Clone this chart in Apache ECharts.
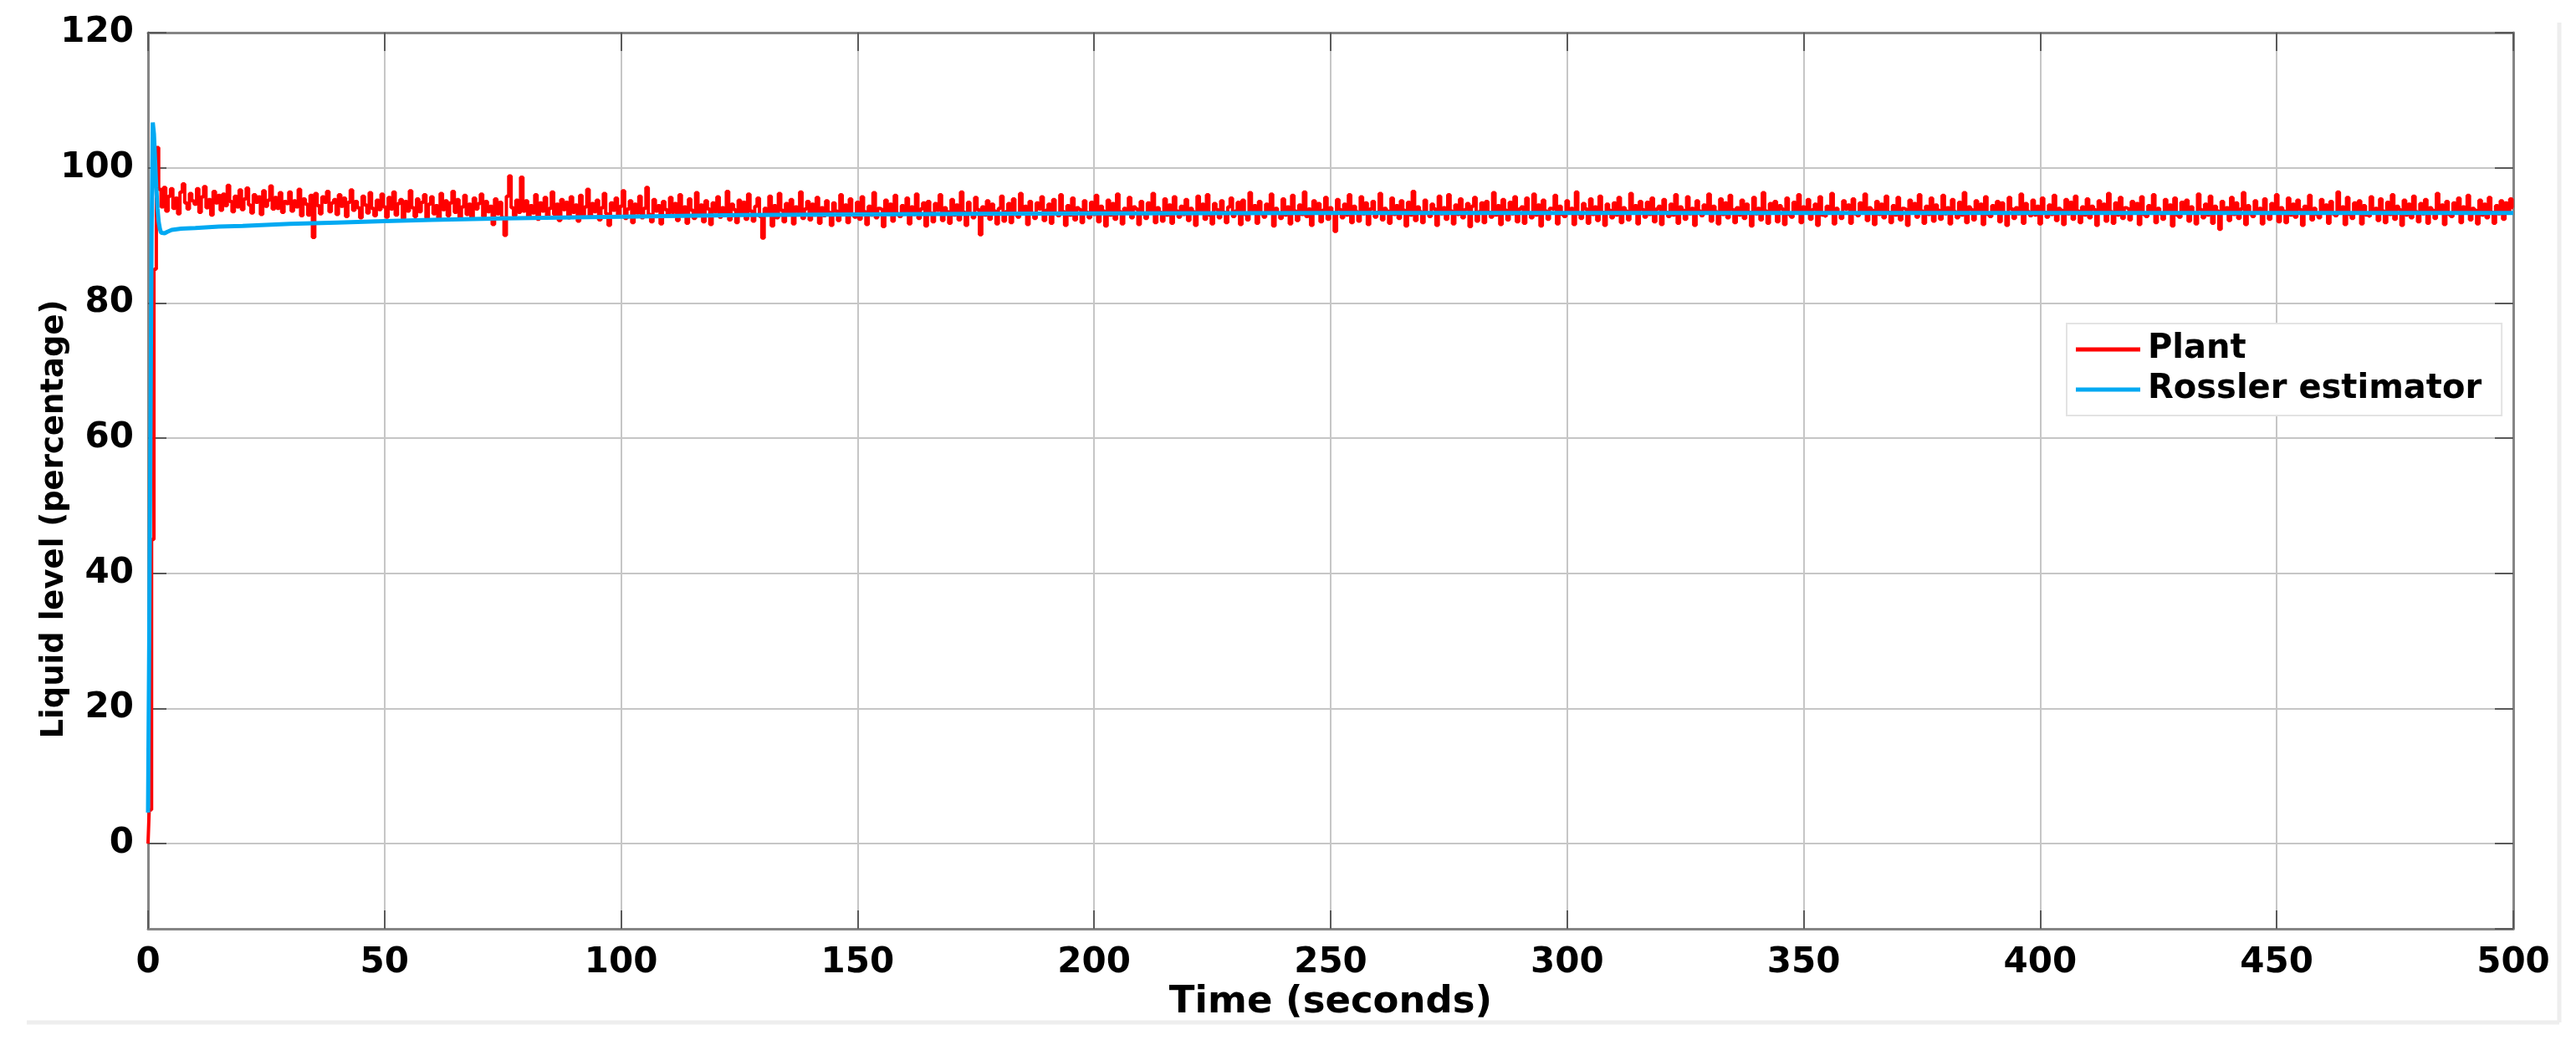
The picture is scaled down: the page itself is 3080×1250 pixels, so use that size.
<!DOCTYPE html>
<html>
<head>
<meta charset="utf-8">
<script src="https://cdn.jsdelivr.net/npm/echarts@6/dist/echarts.min.js"></script>
<style>
html,body{margin:0;padding:0;background:#fff;}
#chart{width:3080px;height:1250px;}
</style>
</head>
<body>
<div id="chart"></div>
<script>
// ---- data ----
const seriesNames = ['Plant', 'Rossler estimator'];
const xTickLabels = ['0','50','100','150','200','250','300','350','400','450','500'];
const yTickLabels = ['0','20','40','60','80','100','120'];

// Plant output, sampled every 0.5 s from t = 0 to t = 500
const plantStartTime = 0;
const plantSampleStep = 0.5;
const plantValues = [
0,5,45,85,103.0,96.8,94.2,97.1,93.6,95.8,96.9,94.0,95.5,93.2,96.4,97.6,94.8,93.9,96.2,95.1,
94.6,96.9,93.4,95.7,97.2,94.1,95.3,93.0,96.5,94.8,95.9,93.7,96.1,94.4,97.4,95.0,93.5,95.8,94.2,96.7,
93.8,95.4,97.0,94.5,93.3,96.0,94.9,95.7,93.1,96.6,94.3,95.2,97.3,93.9,95.6,94.0,96.3,93.4,95.0,94.7,
96.4,93.6,95.1,94.2,96.8,92.9,95.4,94.6,93.0,95.9,89.7,96.2,94.4,93.2,95.7,94.9,96.5,93.5,94.8,95.3,
93.1,96.0,94.3,95.5,92.8,94.9,96.7,93.7,95.0,94.1,92.6,95.8,94.5,93.3,96.3,94.0,92.9,95.2,93.8,96.1,
94.2,92.7,95.6,93.9,96.4,93.0,94.7,95.3,92.5,95.0,93.6,96.6,94.1,92.8,95.4,93.5,94.9,96.0,92.6,94.6,
95.7,93.2,94.4,92.4,96.2,93.8,95.1,92.9,94.8,96.5,93.4,95.3,92.7,94.2,95.9,93.1,94.6,92.5,95.5,93.9,
94.7,96.1,92.8,95.0,93.5,94.3,91.6,95.4,93.2,94.9,92.6,90.0,95.8,98.8,94.1,92.9,95.2,93.4,98.6,93.6,
95.1,92.7,94.4,93.3,96.0,92.4,94.8,93.6,95.6,92.9,94.0,96.4,93.1,94.6,92.2,95.3,93.8,94.9,92.6,95.7,
93.4,94.5,92.1,95.9,93.0,94.2,96.8,92.7,94.7,93.5,95.2,92.3,94.1,96.2,93.2,91.5,94.8,93.7,95.5,92.8,
94.3,96.6,92.5,93.9,95.1,91.9,94.6,93.3,95.8,92.6,94.0,97.1,93.1,92.0,95.3,93.6,94.4,91.7,95.0,93.8,
92.9,95.6,93.4,94.7,92.2,96.0,93.0,94.2,91.8,95.4,93.7,92.5,96.3,93.2,94.5,92.0,95.1,93.9,91.6,94.8,
93.5,95.7,92.7,94.1,93.0,96.5,92.3,94.6,93.8,91.9,95.2,93.3,94.9,92.4,96.1,93.6,92.1,94.3,95.5,92.8,
89.6,94.0,93.1,95.8,91.4,94.4,92.6,96.2,93.7,92.0,94.7,93.2,95.3,91.7,94.2,93.5,96.4,92.5,93.9,95.0,
92.3,94.6,93.0,95.6,91.8,94.1,92.9,95.1,93.4,91.5,94.8,93.6,92.2,96.0,93.3,94.5,91.9,95.4,93.1,92.7,
94.9,92.4,95.7,93.5,91.6,94.3,93.0,96.3,92.6,94.0,93.8,91.3,95.2,93.4,94.6,92.1,95.9,93.2,92.8,94.4,
93.6,95.5,91.7,94.2,93.1,96.1,92.5,93.9,94.8,91.4,95.0,93.3,92.0,94.7,93.7,96.0,92.2,94.1,93.5,91.8,
95.3,93.0,94.5,92.3,96.4,93.4,91.5,94.9,93.2,92.6,95.6,93.8,90.1,94.2,93.0,95.1,92.4,94.6,93.6,91.7,
94.0,95.8,92.1,93.5,94.7,91.9,95.4,93.1,92.7,96.2,93.6,94.3,91.6,95.0,93.3,92.5,94.8,93.9,95.7,92.2,
93.7,94.6,91.8,95.3,93.2,92.9,96.0,93.5,91.5,94.4,93.0,95.5,92.3,94.1,93.8,91.9,95.1,93.4,92.6,94.9,
93.1,95.9,92.0,94.3,93.6,91.4,95.2,93.0,94.7,92.4,96.1,93.5,91.7,94.0,93.3,95.6,92.6,94.2,93.9,91.6,
95.0,93.2,92.5,94.8,93.7,96.2,91.9,94.1,93.4,92.1,95.4,93.0,94.5,91.8,95.7,93.6,92.7,94.3,93.1,95.3,
92.2,94.0,93.5,91.5,95.8,93.3,94.6,92.4,96.0,93.0,91.7,94.7,93.8,92.6,95.1,93.4,91.9,94.2,95.5,92.8,
93.6,94.9,91.6,95.2,93.1,92.3,96.3,93.7,94.4,91.8,95.0,93.2,92.7,94.6,93.5,96.1,91.4,94.0,93.3,92.5,
95.4,93.0,94.2,91.7,95.9,93.6,92.2,94.5,93.1,96.4,92.8,93.9,91.5,95.1,93.4,94.7,92.0,93.7,95.6,92.4,
94.1,93.3,90.6,95.3,93.8,92.6,94.6,93.0,96.0,91.9,94.3,93.5,92.1,95.7,93.2,94.8,91.6,93.9,95.0,92.7,
93.4,96.2,92.3,94.0,93.6,91.8,95.5,93.1,94.4,92.5,95.1,93.7,91.4,94.9,93.0,96.5,92.2,94.2,93.5,91.9,
95.2,93.3,92.8,94.6,93.9,91.5,95.8,93.2,94.1,92.4,96.0,93.6,91.7,94.5,93.1,95.4,92.6,93.8,94.7,91.3,
94.3,95.6,92.1,93.5,94.8,91.9,95.0,93.4,92.7,96.3,93.0,94.4,91.6,95.3,93.7,92.3,94.9,93.2,95.7,92.0,
93.9,94.2,91.8,95.5,93.3,92.6,96.1,93.0,94.5,91.4,95.2,93.6,92.4,94.0,93.8,95.9,91.7,94.3,93.1,92.8,
95.1,93.5,94.0,91.6,96.4,93.2,92.5,94.7,93.9,91.8,95.4,93.1,94.2,92.2,95.8,93.4,91.5,94.6,93.7,92.6,
94.8,93.0,95.6,91.9,94.1,93.6,92.3,96.2,93.3,94.4,91.7,95.0,93.8,92.7,94.9,93.1,95.5,92.0,93.9,94.3,
91.6,95.3,93.4,92.8,94.6,93.0,96.0,91.8,94.2,93.7,92.4,95.7,93.2,94.0,91.5,95.1,93.6,92.9,94.5,93.3,
96.1,92.1,94.3,93.5,91.7,95.4,93.1,94.8,92.6,95.9,93.8,91.9,94.1,93.0,95.2,92.5,94.6,93.4,91.4,95.6,
93.2,94.0,92.3,96.3,93.6,91.8,94.7,93.3,95.0,92.0,94.4,93.9,91.6,95.5,93.1,92.7,94.9,93.5,96.0,91.9,
94.2,93.4,95.3,92.4,93.8,94.6,91.5,95.7,93.0,92.8,94.3,93.6,96.2,91.7,94.0,93.3,92.5,95.1,93.9,94.5,
91.8,95.4,93.2,92.9,94.8,93.5,96.1,92.2,94.1,93.7,91.6,95.0,93.1,94.6,92.6,95.8,93.4,91.9,94.4,93.0,
95.6,92.3,94.0,93.8,91.5,95.2,93.3,94.7,92.7,96.0,93.6,91.8,94.3,93.1,95.5,92.1,94.5,93.7,92.4,95.9,
93.2,94.1,91.7,95.3,93.5,92.6,94.9,93.0,96.3,91.9,94.2,93.8,92.3,95.1,93.4,94.6,91.6,95.7,93.1,92.8,
94.4,93.6,95.0,92.0,94.8,93.3,91.5,95.6,93.9,92.5,94.1,93.2,96.1,91.8,94.7,93.5,92.9,95.2,93.0,94.3,
91.7,95.5,93.4,92.7,94.5,93.1,95.9,92.2,94.0,93.7,91.6,95.3,93.2,94.9,92.4,95.8,93.6,91.9,94.2,93.0,
95.4,92.6,94.3,93.8,91.5,95.1,93.3,94.6,92.1,96.2,93.5,91.8,94.8,93.0,95.6,92.5,94.1,93.9,92.3,95.0,
93.4,94.7,91.6,95.7,93.1,92.8,94.4,93.6,96.0,91.9,94.0,93.2,92.4,95.3,93.7,94.5,91.4,95.5,93.0,92.7,
94.9,93.5,95.2,92.1,94.2,93.3,91.7,96.1,93.8,92.6,94.6,93.0,95.8,91.8,94.3,93.6,90.9,95.0,93.4,94.1,
92.2,95.6,93.1,94.8,92.5,93.9,96.3,91.6,94.4,93.2,92.8,95.1,93.7,94.0,91.7,95.4,93.3,92.4,94.7,93.5,
96.0,92.0,94.1,93.6,91.9,95.5,93.0,94.6,92.7,95.2,93.8,91.5,94.3,93.4,95.9,92.3,94.0,93.1,92.6,95.3,
93.5,94.5,91.8,95.0,93.2,92.9,96.4,93.7,94.2,91.6,95.6,93.1,92.5,94.8,93.4,95.1,91.7,94.4,93.0,92.8,
95.7,93.3,94.0,92.2,95.4,93.6,91.9,94.9,93.1,96.0,92.4,94.3,93.8,91.5,95.2,93.0,94.6,92.6,95.8,93.5,
92.0,94.7,93.2,95.3,91.8,94.1,93.7,92.5,96.2,93.4,94.5,91.6,95.0,93.1,92.8,94.8,93.6,95.5,91.9,94.2,
93.3,95.9,92.3,94.0,93.7,91.7,95.2,93.0,94.6,92.6,95.6,93.4,91.8,94.4,93.2,95.1,92.4,94.8,93.5,95.4,
94.1
];

// Rossler estimator output (smooth curve, read at selected times)
const estimatorTimes  = [0, 0.25, 0.5, 0.75, 1.0, 1.25, 1.5, 1.75, 2.0, 2.25, 2.5, 2.75, 3.0, 3.5, 4, 5, 7, 10, 15, 20, 30, 40, 50, 60, 75, 90, 100, 125, 150, 175, 200, 250, 300, 400, 500];
const estimatorValues = [4.6, 30, 60, 90, 106.7, 105, 101, 97, 94, 92, 91, 90.4, 90.2, 90.3, 90.5, 90.8, 91.0, 91.1, 91.3, 91.4, 91.7, 91.9, 92.1, 92.3, 92.5, 92.65, 92.75, 93.0, 93.1, 93.2, 93.25, 93.3, 93.3, 93.3, 93.3];

// ---- build series data ----
const plantData = plantValues.map((v, i) => [plantStartTime + i * plantSampleStep, v]);
const estimatorData = estimatorTimes.map((t, i) => [t, estimatorValues[i]]);

const FONT = 'DejaVu Sans';
const AXIS_COLOR = '#858585';
const TICK_COLOR = '#5a5a5a';
const GRID_COLOR = '#c6c6c6';

const xMin = +xTickLabels[0], xMax = +xTickLabels[xTickLabels.length - 1];
const xStep = +xTickLabels[1] - +xTickLabels[0];
const yMax = +yTickLabels[yTickLabels.length - 1];
const yStep = +yTickLabels[1] - +yTickLabels[0];
const yMin = -12.6;

const chart = echarts.init(document.getElementById('chart'), null, {renderer: 'canvas'});

const tickStyle = {show: true, inside: true, length: 22, lineStyle: {color: TICK_COLOR, width: 2}};
const lineStyleAxis = {show: true, onZero: false, lineStyle: {color: AXIS_COLOR, width: 3}};

chart.setOption({
  animation: false,
  backgroundColor: '#ffffff',
  grid: {left: 177, right: 75, top: 39, bottom: 139, containLabel: false},
  legend: {
    data: seriesNames,
    orient: 'vertical',
    left: 2471,
    top: 387,
    icon: 'rect',
    itemWidth: 77,
    itemHeight: 5,
    itemGap: 8,
    padding: [11, 24, 11, 11],
    backgroundColor: '#ffffff',
    borderColor: '#e3e3e3',
    borderWidth: 2,
    textStyle: {fontFamily: FONT, fontWeight: 'bold', fontSize: 40, color: '#000', lineHeight: 40, padding: [0, 0, 0, 4]}
  },
  xAxis: [{
    type: 'value', position: 'bottom', min: xMin, max: xMax, interval: xStep,
    axisLine: lineStyleAxis,
    axisTick: tickStyle,
    axisLabel: {margin: 20, color: '#000', fontFamily: FONT, fontWeight: 'bold', fontSize: 42},
    splitLine: {show: true, lineStyle: {color: GRID_COLOR, width: 2}},
    name: 'Time (seconds)', nameLocation: 'middle', nameGap: 66, nameMoveOverlap: false,
    nameTextStyle: {fontFamily: FONT, fontWeight: 'bold', fontSize: 45, color: '#000'}
  }, {
    type: 'value', position: 'top', min: xMin, max: xMax, interval: xStep,
    axisLine: lineStyleAxis, axisTick: tickStyle,
    axisLabel: {show: false}, splitLine: {show: false}
  }],
  yAxis: [{
    type: 'value', position: 'left', min: yMin, max: yMax, minInterval: yStep, maxInterval: yStep, splitNumber: 6,
    axisLine: lineStyleAxis,
    axisTick: tickStyle,
    axisLabel: {showMinLabel: false, margin: 17, color: '#000', fontFamily: FONT, fontWeight: 'bold', fontSize: 42},
    splitLine: {show: true, lineStyle: {color: GRID_COLOR, width: 2}},
    name: 'Liquid level (percentage)', nameLocation: 'middle', nameGap: 93, nameMoveOverlap: false,
    nameTextStyle: {fontFamily: FONT, fontWeight: 'bold', fontSize: 37, color: '#000', padding: [0, 92, 0, 0]}
  }, {
    type: 'value', position: 'right', min: yMin, max: yMax, minInterval: yStep, maxInterval: yStep, splitNumber: 6,
    axisLine: lineStyleAxis, axisTick: tickStyle,
    axisLabel: {show: false}, splitLine: {show: false}
  }],
  graphic: [
    {type: 'line', silent: true, shape: {x1: 32, y1: 1223, x2: 3060, y2: 1223}, style: {stroke: '#eeeeee', lineWidth: 5}},
    {type: 'line', silent: true, shape: {x1: 3060, y1: 27, x2: 3060, y2: 1223}, style: {stroke: '#eeeeee', lineWidth: 5}}
  ],
  series: [{
    name: seriesNames[0], type: 'line', xAxisIndex: 0, yAxisIndex: 0,
    data: plantData, symbol: 'none', showSymbol: false, step: 'middle',
    color: '#ff0000',
    lineStyle: {color: '#ff0000', width: 4},
    z: 2
  }, {
    name: seriesNames[1], type: 'line', xAxisIndex: 0, yAxisIndex: 0,
    data: estimatorData, symbol: 'none', showSymbol: false, smooth: false,
    color: '#00a9f2',
    lineStyle: {color: '#00a9f2', width: 5},
    z: 3
  }]
});
</script>
</body>
</html>
